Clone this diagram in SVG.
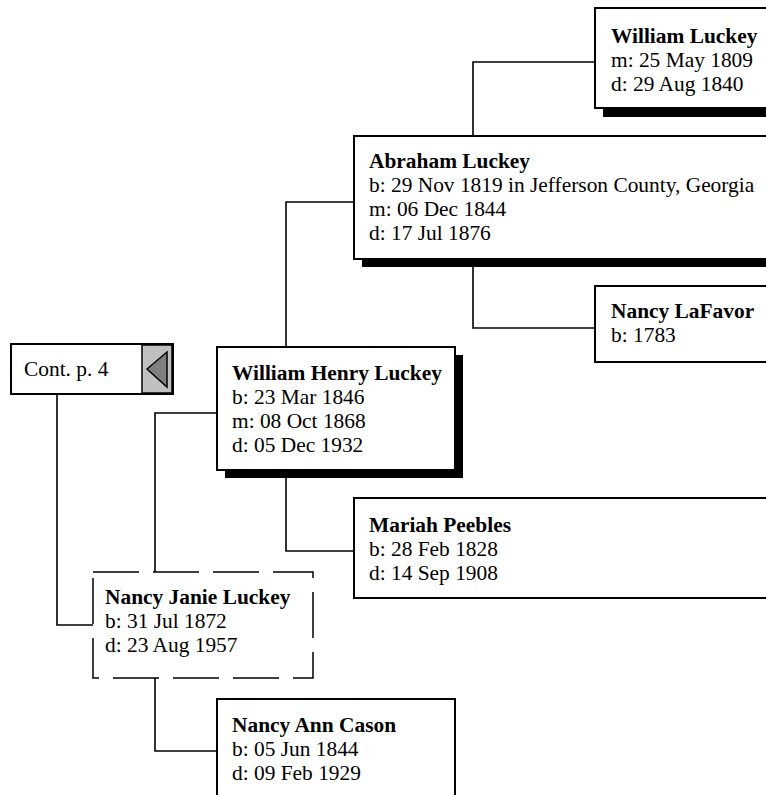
<svg xmlns="http://www.w3.org/2000/svg" width="766" height="795" viewBox="0 0 766 795">
<style>
text{font-family:"Liberation Serif","Times New Roman",serif;font-size:21.4px;fill:#000}
.n{font-weight:bold}
.box{fill:#fff;stroke:#000;stroke-width:2}
.dash{fill:#fff;stroke:#000;stroke-width:1.5;stroke-dasharray:46 14}
.sh{fill:#000}
.c{fill:none;stroke:#000;stroke-width:1.6}
</style>
<rect width="766" height="795" fill="#fff"/>
<g id="connectors">
<polyline class="c" points="595,62 473,62 473,136"/>
<polyline class="c" points="473,267 473,328 595,328"/>
<polyline class="c" points="354,202 286,202 286,347"/>
<polyline class="c" points="286,478 286,551 354,551"/>
<polyline class="c" points="217,413 155,413 155,572"/>
<polyline class="c" points="155,678 155,751 217,751"/>
<polyline class="c" points="57,394 57,625 93,625"/>
</g>
<g id="william-luckey">
<rect class="sh" x="603" y="16" width="200" height="101"/>
<rect class="box" x="595" y="8" width="200" height="100"/>
<text x="611" y="43" class="n">William Luckey</text>
<text x="611" y="67">m: 25 May 1809</text>
<text x="611" y="91">d: 29 Aug 1840</text>
</g>
<g id="abraham-luckey">
<rect class="sh" x="362" y="144" width="440" height="123"/>
<rect class="box" x="354" y="136" width="440" height="123"/>
<text x="369" y="168" class="n">Abraham Luckey</text>
<text x="369" y="192">b: 29 Nov 1819 in Jefferson County, Georgia</text>
<text x="369" y="216">m: 06 Dec 1844</text>
<text x="369" y="240">d: 17 Jul 1876</text>
</g>
<g id="nancy-lafavor">
<rect class="box" x="595" y="286" width="200" height="76"/>
<text x="611" y="318" class="n">Nancy LaFavor</text>
<text x="611" y="342">b: 1783</text>
</g>
<g id="cont-p4">
<rect class="box" x="11" y="344" width="162" height="50"/>
<rect x="142" y="345" width="30" height="48" fill="#c0c0c0" stroke="#000" stroke-width="1.5"/>
<polygon points="147,369 167,352 167,387" fill="#808080" stroke="#000" stroke-width="1.5"/>
<text x="24" y="376">Cont. p. 4</text>
</g>
<g id="william-henry-luckey">
<rect class="sh" x="225" y="355" width="238" height="123"/>
<rect class="box" x="217" y="347" width="238" height="123"/>
<text x="232" y="380" class="n">William Henry Luckey</text>
<text x="232" y="404">b: 23 Mar 1846</text>
<text x="232" y="428">m: 08 Oct 1868</text>
<text x="232" y="452">d: 05 Dec 1932</text>
</g>
<g id="mariah-peebles">
<rect class="box" x="354" y="498" width="440" height="100"/>
<text x="369" y="532" class="n">Mariah Peebles</text>
<text x="369" y="556">b: 28 Feb 1828</text>
<text x="369" y="580">d: 14 Sep 1908</text>
</g>
<g id="nancy-janie-luckey">
<rect class="dash" x="93" y="572" width="220" height="106"/>
<text x="105" y="604" class="n">Nancy Janie Luckey</text>
<text x="105" y="628">b: 31 Jul 1872</text>
<text x="105" y="652">d: 23 Aug 1957</text>
</g>
<g id="nancy-ann-cason">
<rect class="box" x="217" y="699" width="238" height="120"/>
<text x="232" y="732" class="n">Nancy Ann Cason</text>
<text x="232" y="756">b: 05 Jun 1844</text>
<text x="232" y="780">d: 09 Feb 1929</text>
</g>
</svg>
